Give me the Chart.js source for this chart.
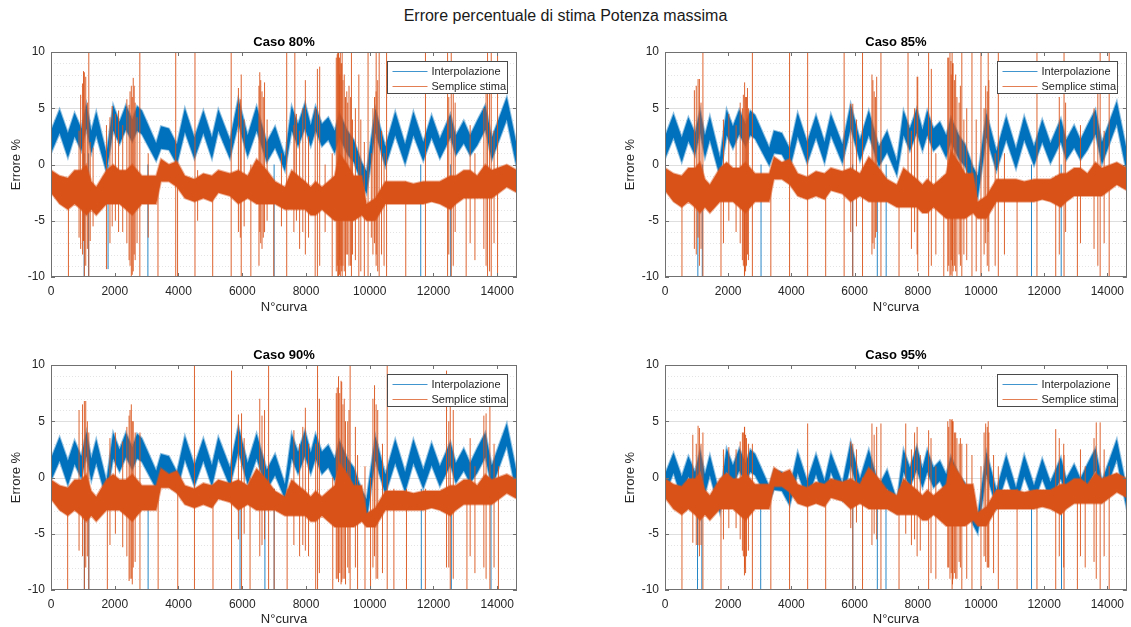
<!DOCTYPE html>
<html>
<head>
<meta charset="utf-8">
<script src="https://cdn.jsdelivr.net/npm/chart.js@4.4.1/dist/chart.umd.min.js"></script>
<style>
  body { margin: 0; background: #fff; width: 1131px; height: 627px; position: relative; overflow: hidden; font-family: "Liberation Sans", Arial, sans-serif; }
  #title { position: absolute; top: 6px; left: 0; width: 1131px; text-align: center; font-size: 16px; line-height: 20px; color: #1a1a1a; }
  canvas { position: absolute; }
</style>
</head>
<body>
<div id="title">Errore percentuale di stima Potenza massima</div>
<canvas id="c80" width="530" height="318" style="left:0;top:0"></canvas>
<canvas id="c85" width="517" height="318" style="left:614px;top:0"></canvas>
<canvas id="c90" width="530" height="314" style="left:0;top:313px"></canvas>
<canvas id="c95" width="517" height="314" style="left:614px;top:313px"></canvas>
<script>
const seriesNames = ['Interpolazione', 'Semplice stima'];
const xMax = 14620;
const xTicks = [0, 2000, 4000, 6000, 8000, 10000, 12000, 14000];
const yTicks = [-10, -5, 0, 5, 10];

const nodeX = [
  0, 270, 530, 740, 950, 1110, 1265, 1420, 1740, 1950,
  2150, 2350, 2550, 2700, 2850, 3300, 3450, 3700, 3950, 4200,
  4500, 4780, 5050, 5250, 5615, 5877, 6170, 6450, 6770, 7030,
  7340, 7550, 7750, 7970, 8150, 8300, 8500, 8700, 8900, 9050,
  9300, 9500, 9750, 9900, 10175, 10490, 10800, 11110, 11370, 11680,
  11940, 12200, 12530, 12700, 12950, 13150, 13370, 13625, 13830, 14300,
  14620
];

// ---- Caso 80% ----
const interpHi80 = [
  3.0, 4.9, 2.8, 4.6, 3.2, 5.4, 3.0, 4.7, 1.0, 5.3,
  3.8, 5.3, 4.0, 5.2, 4.8, 1.9, 3.4, 3.2, 1.8, 5.0,
  2.4, 4.8, 2.4, 4.9, 2.2, 5.9, 2.6, 5.2, 2.0, 3.4,
  0.7, 5.2, 3.6, 5.5, 3.5, 5.2, 3.6, 4.2, 3.0, 4.6,
  3.0, 2.2, 0.2, -0.6, 5.0, 1.6, 4.7, 1.8, 4.7, 2.0,
  4.4, 2.3, 4.5, 2.6, 3.9, 2.6, 3.9, 5.3, 2.4, 6.0,
  1.6
];
const interpLo80 = [
  1.0, 2.8, 0.6, 2.5, 1.2, 3.2, 1.0, 2.6, -0.7, 3.0,
  1.8, 3.1, 2.0, 3.0, 2.7, 0.3, 1.4, 1.3, 0.0, 2.9,
  0.5, 2.8, 0.5, 3.0, 0.5, 3.6, 0.7, 3.0, 0.2, 1.5,
  -0.6, 3.0, 1.6, 3.2, 1.6, 3.0, 1.6, 2.2, 1.0, 2.4,
  0.9, 0.2, -1.7, -2.6, 2.8, -0.2, 2.6, 0.0, 2.6, 0.3,
  2.4, 0.5, 2.4, 0.8, 1.9, 0.8, 1.7, 3.1, 0.4, 4.0,
  -0.4
];
const stimaHi80 = [
  -0.5, -1.0, -1.2, -0.5, -0.5, 0.0, -1.5, -2.0, -0.5, 0.0,
  -0.5, -0.5, 0.0, -0.5, -1.0, -1.0, 0.5, 0.0, 0.3, -1.0,
  -1.3, -0.8, -1.0, -0.5, -0.8, -0.5, -1.0, 0.5, -0.5, -1.5,
  -2.0, -0.5, -1.0, -1.5, -2.0, -1.5, -2.0, -1.5, -1.0, 1.0,
  0.0, -1.0, -1.0, -3.5, -3.0, -1.5, -1.5, -1.5, -1.7, -1.5,
  -1.5, -1.5, -1.0, -1.0, -0.5, -0.5, -1.0, 0.0, -0.5, 0.0,
  -0.5
];
const stimaLo80 = [
  -2.5, -3.5, -4.0, -3.5, -4.0, -4.5, -4.0, -4.5, -3.5, -3.5,
  -3.5, -4.0, -4.5, -4.0, -3.5, -3.5, -1.5, -1.5, -2.0, -3.0,
  -3.3, -3.0, -3.3, -2.5, -2.8, -3.5, -3.0, -3.5, -3.5, -3.5,
  -4.0, -4.0, -4.0, -4.0, -4.5, -4.5, -4.0, -4.5, -5.0, -5.0,
  -5.0, -5.0, -4.5, -5.0, -5.0, -3.5, -3.5, -3.5, -3.5, -3.5,
  -3.3, -3.5, -4.0, -3.5, -3.0, -3.0, -3.0, -3.0, -3.0, -2.0,
  -2.5
];
// [N° curva, min, max]
const interpSpikes80 = [
  [1040, -10, 1], [1180, -10, 1], [1790, -9.3, 0], [3040, -10, 0],
  [7000, -10, 0], [11600, -10, 0], [12540, -10, 0]
];
const stimaSpikes80 = [
  [0, -10, 10], [547, -10, -1.5], [1047, -10, 8.2], [1186, -10, 10], [2787, -10, 10],
  [3356, -10, -1], [3913, -10, 10], [3971, -10, -0.5], [4517, -10, 10], [5073, -10, -1.5],
  [5653, -10, 10], [5968, -10, 8], [6270, -10, 0], [6525, -9, 7], [6989, -10, -1.5],
  [7395, -10, 10], [7650, -3, 10], [8288, -10, 5], [8358, -10, 8.5], [8822, -10, 1],
  [8997, -10, 10], [9078, -10, 10], [9135, -10, 10], [9426, -10, 10], [9658, -10, 8],
  [9831, -10, 2], [9947, -10, 10], [10202, -8, 10], [10296, -10, 10], [10528, -10, 10],
  [11130, -10, -1.5], [11748, -10, 10], [12442, -10, 10], [12557, -10, 10], [13025, -10, -1],
  [13696, -10, 10], [13812, -10, 10], [14010, -10, 10], [14620, -8.7, -0.5],
  [880, -6.5, 3], [930, -7.5, 6.2], [990, -8, 7.2], [1020, -6.8, 8.3], [1090, -9, 7.8],
  [1140, -7.5, 5.5], [1230, -6.8, 2], [1320, -5.5, 1.5], [1740, -9.3, 3.5], [1850, -7, 4.2],
  [1920, -5.5, 5.2], [2020, -5, 4.5], [2120, -6, 4.8], [2250, -6, 3.5], [2380, -7, 5.8],
  [2450, -8.5, 5.3], [2520, -10, 7], [2580, -9.5, 7.7], [2640, -8.5, 5.5], [2700, -7, 4.2],
  [3050, -6.5, 1], [4600, -5, -0.5], [5880, -6, 6.8], [5940, -6.5, 5.8], [6060, -5.5, 4],
  [6550, -6, 8.2], [6620, -7.5, 6.5], [6700, -6, 7.3], [6780, -5, 4], [7230, -5.5, 1],
  [7620, -6, 3.5], [7700, -5, 4.5], [7800, -7.5, 3], [7900, -6, 5], [7980, -8, 7.5],
  [8080, -6.5, 2.5], [8430, -9, 8.7], [8600, -6, 0], [8950, -9.5, 9.5], [9020, -10, 10],
  [9100, -9, 9], [9200, -9.5, 8], [9280, -8, 6.5], [9350, -9, 7], [9550, -8.5, 5],
  [9720, -9.5, 4], [10050, -6.5, 1], [10150, -7, 6], [10250, -9.5, 7.5], [10370, -8, 3],
  [10450, -9, 1], [12480, -8, 6], [12620, -9, 7.5], [12680, -6, 5.5], [13150, -7, 3.5],
  [13300, -8.5, 1], [13580, -7.5, 5], [13650, -9, 6.5], [13760, -9.5, 8], [13900, -7, 3],
  [8980, -9, 9.8], [9050, -9.8, 9.5], [9060, -8.5, 8], [9120, -9.5, 9], [9160, -9, 7.5],
  [9240, -10, 6], [9310, -8, 5.5], [9400, -9, 6], [9460, -8, 4], [2480, -9, 6.5],
  [2550, -9.8, 6], [2610, -8, 7], [10100, -8, 5], [10200, -9, 6.5], [6580, -7, 7.5],
  [6660, -6.5, 6]
];

// ---- Caso 85% ----
const interpHi85 = [
  2.5, 4.5, 2.4, 4.2, 2.8, 4.9, 2.6, 4.3, 0.6, 4.9,
  3.4, 4.9, 3.6, 4.8, 4.4, 1.5, 3.0, 2.8, 1.4, 4.6,
  2.0, 4.4, 2.0, 4.5, 1.8, 5.4, 2.2, 4.8, 1.6, 3.0,
  0.3, 4.8, 3.2, 5.0, 3.1, 4.8, 3.2, 3.8, 2.6, 4.2,
  2.6, 1.8, -0.2, -1.0, 4.6, 1.2, 4.3, 1.4, 4.3, 1.6,
  4.0, 1.9, 4.1, 2.2, 3.5, 2.2, 3.5, 4.9, 2.0, 5.6,
  1.2
];
const interpLo85 = [
  0.5, 2.4, 0.2, 2.1, 0.8, 2.8, 0.6, 2.2, -1.1, 2.6,
  1.4, 2.7, 1.6, 2.6, 2.3, -0.1, 1.0, 0.9, -0.4, 2.5,
  0.1, 2.4, 0.1, 2.6, 0.1, 3.2, 0.3, 2.6, -0.2, 1.1,
  -1.0, 2.6, 1.2, 2.8, 1.2, 2.6, 1.2, 1.8, 0.6, 2.0,
  0.5, -0.2, -2.1, -3.0, 2.4, -0.6, 2.2, -0.4, 2.2, -0.1,
  2.0, 0.1, 2.0, 0.4, 1.5, 0.4, 1.3, 2.7, 0.0, 3.6,
  -0.8
];
const stimaHi85 = [
  -0.3, -0.8, -1.0, -0.3, -0.3, 0.2, -1.3, -1.8, -0.3, 0.2,
  -0.3, -0.3, 0.2, -0.3, -0.8, -0.8, 0.7, 0.2, 0.5, -0.8,
  -1.1, -0.6, -0.8, -0.3, -0.6, -0.3, -0.8, 0.7, -0.3, -1.3,
  -1.8, -0.3, -0.8, -1.3, -1.8, -1.3, -1.8, -1.3, -0.8, 1.2,
  0.2, -0.8, -0.8, -3.3, -2.8, -1.3, -1.3, -1.3, -1.5, -1.3,
  -1.3, -1.3, -0.8, -0.8, -0.3, -0.3, -0.8, 0.2, -0.3, 0.2,
  -0.3
];
const stimaLo85 = [
  -2.3, -3.3, -3.8, -3.3, -3.8, -4.3, -3.8, -4.3, -3.3, -3.3,
  -3.3, -3.8, -4.3, -3.8, -3.3, -3.3, -1.3, -1.3, -1.8, -2.8,
  -3.1, -2.8, -3.1, -2.3, -2.6, -3.3, -2.8, -3.3, -3.3, -3.3,
  -3.8, -3.8, -3.8, -3.8, -4.3, -4.3, -3.8, -4.3, -4.8, -4.8,
  -4.8, -4.8, -4.3, -4.8, -4.8, -3.3, -3.3, -3.3, -3.3, -3.3,
  -3.1, -3.3, -3.8, -3.3, -2.8, -2.8, -2.8, -2.8, -2.8, -1.8,
  -2.3
];
const interpSpikes85 = [
  [1040, -10, 0], [1180, -10, 0], [3040, -10, 0], [5940, -10, 0],
  [6720, -10, 0], [7000, -10, 0], [11600, -10, 0], [12540, -10, 0]
];
const stimaSpikes85 = [
  [0, -9, 10], [537, -10, -1.5], [1047, -6.5, 7.6], [1200, -10, 10], [1772, -10, -1],
  [2515, -10, -2], [2766, -10, 10], [3350, -10, -1], [3943, -10, 10], [4515, -10, 10],
  [5086, -10, -1.5], [5670, -10, 10], [5944, -10, 5.4], [6252, -10, 10], [6835, -10, 10],
  [7407, -10, -1.5], [7692, -3, 10], [8000, -9.5, 7.8], [8344, -10, 10], [8573, -8, 1],
  [8824, -10, -1], [9087, -10, 10], [9395, -10, 10], [9716, -10, 10], [10001, -10, 10],
  [10230, -6, 10], [10550, -10, 10], [10744, -8, 1], [11144, -10, -1.5], [11773, -10, 10],
  [12367, -10, -1], [12630, -10, 10], [13053, -10, -1], [13773, -10, 10], [14059, -10, 10],
  [930, -7.5, 6.6], [990, -8, 7], [1090, -9, 7.6], [1140, -7.5, 5.5], [1850, -7, 4],
  [2020, -5, 4.5], [2250, -6, 3.5], [2380, -7, 5.5], [2450, -8.5, 5], [2520, -9.8, 7.3],
  [2580, -9, 6], [2640, -8.5, 5], [5880, -6, 5.4], [6060, -5.5, 4], [6550, -8, 8],
  [6620, -7.5, 6.5], [6700, -6, 7.8], [7800, -7.5, 3], [7900, -6, 5], [7980, -8, 7.8],
  [8430, -9, 8.5], [8950, -9.5, 9.5], [9020, -10, 10], [9100, -9, 9], [9200, -9.5, 8],
  [9350, -9, 7], [9550, -8.5, 5], [9850, -9.5, 4], [10150, -7, 7], [10250, -9.5, 7.5],
  [10450, -9, 1], [12480, -8, 6], [12680, -6, 5.5], [13150, -7, 3.5], [13580, -7.5, 5],
  [13700, -9, 6.5], [13900, -7, 3],
  [8980, -9, 9.5], [9050, -9.8, 9.2], [9060, -8.5, 8], [9120, -9.5, 9], [9160, -9, 7.5],
  [9240, -10, 6], [9310, -8, 5.5], [9460, -8, 4], [2480, -9, 6.2], [2550, -9.5, 6],
  [2610, -8, 6.8], [10100, -8, 5], [10200, -9, 6.5], [6580, -7, 7.5], [6660, -6.5, 6]
];

// ---- Caso 90% ----
const interpHi90 = [
  1.7, 3.6, 1.5, 3.3, 1.9, 4.1, 1.7, 3.4, -0.3, 4.0,
  2.5, 4.0, 2.7, 3.9, 3.5, 0.6, 2.1, 1.9, 0.5, 3.7,
  1.1, 3.5, 1.1, 3.6, 0.9, 4.6, 1.3, 3.9, 0.7, 2.1,
  -0.6, 3.9, 2.3, 4.2, 2.2, 3.9, 2.3, 2.9, 1.7, 3.3,
  1.7, 0.9, -1.1, -1.9, 3.7, 0.3, 3.4, 0.5, 3.4, 0.7,
  3.1, 1.0, 3.2, 1.3, 2.6, 1.3, 2.6, 4.0, 1.1, 4.8,
  0.3
];
const interpLo90 = [
  -0.3, 1.5, -0.7, 1.2, -0.1, 1.9, -0.3, 1.3, -2.0, 1.7,
  0.5, 1.8, 0.7, 1.7, 1.4, -1.0, 0.1, 0.0, -1.3, 1.6,
  -0.8, 1.5, -0.8, 1.7, -0.8, 2.3, -0.6, 1.7, -1.1, 0.2,
  -1.9, 1.7, 0.3, 1.9, 0.3, 1.7, 0.3, 0.9, -0.3, 1.1,
  -0.4, -1.1, -3.0, -3.9, 1.5, -1.5, 1.3, -1.3, 1.3, -1.0,
  1.1, -0.8, 1.1, -0.5, 0.6, -0.5, 0.4, 1.8, -0.9, 2.8,
  -1.7
];
const stimaHi90 = [
  -0.2, -0.7, -0.9, -0.2, -0.2, 0.3, -1.2, -1.7, -0.2, 0.3,
  -0.2, -0.2, 0.3, -0.2, -0.7, -0.7, 0.8, 0.3, 0.6, -0.7,
  -1.0, -0.5, -0.7, -0.2, -0.5, -0.2, -0.7, 0.8, -0.2, -1.2,
  -1.7, -0.2, -0.7, -1.2, -1.7, -1.2, -1.7, -1.2, -0.7, 1.3,
  0.3, -0.7, -0.7, -3.2, -2.7, -1.2, -1.2, -1.2, -1.4, -1.2,
  -1.2, -1.2, -0.7, -0.7, -0.2, -0.2, -0.7, 0.3, -0.2, 0.3,
  -0.2
];
const stimaLo90 = [
  -1.9, -2.9, -3.4, -2.9, -3.4, -3.9, -3.4, -3.9, -2.9, -2.9,
  -2.9, -3.4, -3.9, -3.4, -2.9, -2.9, -0.9, -0.9, -1.4, -2.4,
  -2.7, -2.4, -2.7, -1.9, -2.2, -2.9, -2.4, -2.9, -2.9, -2.9,
  -3.4, -3.4, -3.4, -3.4, -3.9, -3.9, -3.4, -3.9, -4.4, -4.4,
  -4.4, -4.4, -3.9, -4.4, -4.4, -2.9, -2.9, -2.9, -2.9, -2.9,
  -2.7, -2.9, -3.4, -2.9, -2.4, -2.4, -2.4, -2.4, -2.4, -1.4,
  -1.9
];
const interpSpikes90 = [
  [1047, -10, -1], [1186, -10, -1], [3047, -10, -1], [5931, -10, -1], [6711, -10, -1],
  [7001, -10, -1], [11618, -10, -1], [12560, -10, -1], [13805, -10, -1]
];
const stimaSpikes90 = [
  [0, -10, 8.7], [523, -10, -1], [1047, -10, 6.8], [1186, -10, 4], [1768, -10, -1],
  [2791, -10, 4], [3361, -10, -1], [3977, -10, -0.5], [4501, -10, 10], [5082, -10, -1],
  [5664, -10, 9.5], [5978, -10, 5.7], [6245, -10, 0], [6827, -10, 10], [7001, -10, -1],
  [7408, -10, -1], [8304, -10, 3], [8362, -10, 10], [8839, -10, 0], [9385, -10, 10],
  [9618, -10, 2], [9851, -10, 1], [10025, -10, 0], [10548, -10, 10], [10758, -10, -1],
  [11153, -10, -1], [11746, -10, -1], [12409, -8, 9.5], [12526, -10, 6.5], [13049, -10, -1],
  [13770, -10, 6.5], [14037, -10, 1], [14620, -7, -0.5],
  [880, -6.5, 6], [990, -7, 6.5], [1090, -8, 6.8], [1140, -7, 5], [1850, -6, 3.5],
  [2020, -5, 4], [2250, -6.2, 3.2], [2380, -7, 4.5], [2450, -9.2, 5.5], [2520, -9, 6.5],
  [2580, -8, 5], [2640, -7.5, 4], [5880, -5.5, 5.6], [6060, -5, 3.5], [6550, -7, 7],
  [6620, -6, 5.5], [6700, -5.5, 6], [7620, -6, 4.2], [7800, -7, 3], [7900, -6, 4.5],
  [7980, -6.5, 6.2], [8080, -7, 3], [8420, -8.5, 7], [8950, -9, 7.5], [9020, -9.3, 9],
  [9100, -9.5, 8.6], [9200, -9, 7], [9350, -8.5, 6], [9550, -8, 4.5], [10150, -7, 8.2],
  [10250, -9, 6], [10400, -8.5, 3], [12480, -8, 5], [12620, -9, 6], [13150, -7, 3.5],
  [13300, -8.5, 1], [13580, -8, 5.5], [13650, -9, 5.7], [13900, -8, 3],
  [8980, -9, 8], [9060, -8.5, 7.5], [9120, -9.3, 8.5], [9160, -9, 6.5], [9240, -9.5, 5],
  [9310, -8, 5], [2480, -9, 6], [2550, -9.5, 5], [10100, -8, 7], [10200, -9, 6.5]
];

// ---- Caso 95% ----
const interpHi95 = [
  0.3, 2.2, 0.1, 1.9, 0.5, 2.5, 0.3, 2.0, -1.6, 2.6,
  1.1, 2.6, 1.3, 2.5, 2.1, -0.8, 0.7, 0.5, -0.9, 2.3,
  -0.3, 2.1, -0.3, 2.2, -0.5, 3.2, -0.1, 2.5, -0.7, 0.7,
  -2.0, 2.5, 0.9, 2.8, 0.8, 2.5, 0.9, 1.5, 0.3, 1.9,
  0.3, -0.5, -2.5, -3.3, 2.3, -1.1, 2.0, -0.9, 2.0, -0.7,
  1.7, -0.4, 1.8, -0.1, 1.2, -0.1, 1.2, 2.6, -0.3, 3.4,
  -1.1
];
const interpLo95 = [
  -1.5, 0.4, -1.9, 0.1, -1.3, 0.6, -1.5, 0.2, -3.2, 0.5,
  -0.7, 0.6, -0.5, 0.5, 0.2, -2.2, -1.1, -1.2, -2.5, 0.4,
  -2.0, 0.3, -2.0, 0.5, -2.0, 1.1, -1.8, 0.5, -2.3, -1.0,
  -3.1, 0.5, -0.9, 0.7, -0.9, 0.5, -0.9, -0.3, -1.5, -0.1,
  -1.6, -2.3, -4.2, -5.0, 0.3, -2.7, 0.1, -2.5, 0.1, -2.2,
  -0.1, -2.0, -0.1, -1.7, -0.6, -1.7, -0.8, 0.6, -2.1, 1.6,
  -2.9
];
const stimaHi95 = [
  -0.1, -0.6, -0.8, -0.1, -0.1, 0.4, -1.1, -1.6, -0.1, 0.4,
  -0.1, -0.1, 0.4, -0.1, -0.6, -0.6, 0.9, 0.4, 0.7, -0.6,
  -0.9, -0.4, -0.6, -0.1, -0.4, -0.1, -0.6, 0.9, -0.1, -1.1,
  -1.6, -0.1, -0.6, -1.1, -1.6, -1.1, -1.6, -1.1, -0.6, 1.4,
  0.4, -0.6, -0.6, -3.1, -2.6, -1.1, -1.1, -1.1, -1.3, -1.1,
  -1.1, -1.1, -0.6, -0.6, -0.1, -0.1, -0.6, 0.4, -0.1, 0.4,
  -0.1
];
const stimaLo95 = [
  -1.8, -2.8, -3.3, -2.8, -3.3, -3.8, -3.3, -3.8, -2.8, -2.8,
  -2.8, -3.3, -3.8, -3.3, -2.8, -2.8, -0.8, -0.8, -1.3, -2.3,
  -2.6, -2.3, -2.6, -1.8, -2.1, -2.8, -2.3, -2.8, -2.8, -2.8,
  -3.3, -3.3, -3.3, -3.3, -3.8, -3.8, -3.3, -3.8, -4.3, -4.3,
  -4.3, -4.3, -3.8, -4.3, -4.3, -2.8, -2.8, -2.8, -2.8, -2.8,
  -2.6, -2.8, -3.3, -2.8, -2.3, -2.3, -2.3, -2.3, -2.3, -1.3,
  -1.8
];
const interpSpikes95 = [
  [1029, -10, -2], [1166, -10, -2], [3029, -10, -2], [5944, -10, -2],
  [6721, -10, -2], [6995, -10, -2], [11601, -10, -2], [12550, -10, -2]
];
const stimaSpikes95 = [
  [0, -10, 4.5], [537, -10, -1], [1047, -6, 4.6], [1200, -10, 4], [1772, -10, -1],
  [2515, -8.7, 4.5], [2766, -10, 3], [3350, -10, -1], [3943, -10, 0], [4515, -10, 4.8],
  [5086, -10, -1], [5944, -10, 3], [6252, -10, 0], [6835, -10, 4.8], [7407, -10, -1],
  [8344, -10, 4.2], [8573, -9, 1], [9087, -10, 5.2], [9395, -10, 3], [9716, -10, 2],
  [10001, -10, 1], [10230, -8, 5], [10550, -10, 1], [11144, -10, -1], [11773, -10, -1],
  [12367, -10, 4.3], [12630, -10, 2], [13053, -10, -1], [13773, -10, 4.9], [14059, -10, 1],
  [14620, -8.5, -0.5],
  [880, -5.8, 3.8], [990, -6, 3], [1090, -7, 4.4], [1140, -6, 3], [1850, -5.5, 2.5],
  [2020, -4.5, 2.7], [2250, -4.5, 2.5], [2380, -5.5, 3.2], [2450, -6.5, 4], [2520, -8, 4.5],
  [2580, -7, 3.5], [2640, -6.5, 3], [5880, -4.5, 3.2], [6060, -4, 2.5], [6550, -6, 4.8],
  [6620, -5, 3.8], [6700, -5.5, 4.5], [7620, -5, 4.8], [7800, -6, 2.5], [7900, -5.5, 4],
  [7980, -7, 4.5], [8080, -6.5, 2], [8420, -8.5, 3.5], [8950, -8, 5], [9020, -9, 5.2],
  [9100, -9.5, 5], [9200, -9, 4], [9350, -8, 3.5], [9550, -9, 3], [10150, -7.5, 4.8],
  [10250, -8, 4], [10400, -8.5, 2], [12480, -7, 3.5], [12620, -8, 3], [13150, -7, 2.5],
  [13300, -8, 1], [13580, -7.5, 3.5], [13650, -9, 4.9], [13900, -7, 2.5],
  [8980, -8, 4.5], [9060, -8.5, 5.1], [9120, -9, 5], [9160, -8.5, 4], [9240, -9, 3.5],
  [9310, -7.5, 3], [2480, -7, 4], [2550, -8.5, 3.8], [10100, -7, 4], [10200, -8, 4.5]
];

const blue = '#0072BD';
const orange = '#D95319';
const textColor = '#262626';
Chart.defaults.font.family = '"Liberation Sans", Arial, sans-serif';
Chart.defaults.font.size = 12;
Chart.defaults.color = textColor;

function band(vals) {
  return nodeX.map((x, i) => ({ x: x, y: vals[i] }));
}

function spikes(list) {
  const pts = [];
  list.slice().sort((a, b) => a[0] - b[0]).forEach(s => {
    pts.push({ x: s[0], y: s[1] }, { x: s[0], y: s[2] }, { x: s[0], y: null });
  });
  return pts;
}

// grid lines, box, inner ticks, subplot title and legend (MATLAB look)
const frame = {
  id: 'frame',
  beforeDatasetsDraw(chart) {
    const { ctx, chartArea: a, scales } = chart;
    ctx.save();
    ctx.lineWidth = 1;
    for (let v = -9; v <= 9; v++) {
      const py = Math.round(scales.y.getPixelForValue(v)) + 0.5;
      ctx.strokeStyle = v % 5 === 0 ? '#dedede' : '#e4e4e4';
      ctx.setLineDash(v % 5 === 0 ? [] : [1, 2]);
      ctx.beginPath();
      ctx.moveTo(a.left, py);
      ctx.lineTo(a.right, py);
      ctx.stroke();
    }
    ctx.restore();
  },
  afterDraw(chart, args, opts) {
    const { ctx, chartArea: a, scales } = chart;
    ctx.save();
    ctx.strokeStyle = '#707070';
    ctx.lineWidth = 1;
    ctx.beginPath();
    xTicks.forEach(v => {
      const px = Math.round(scales.x.getPixelForValue(v)) + 0.5;
      ctx.moveTo(px, a.bottom); ctx.lineTo(px, a.bottom - 4);
      ctx.moveTo(px, a.top); ctx.lineTo(px, a.top + 4);
    });
    yTicks.forEach(v => {
      const py = Math.round(scales.y.getPixelForValue(v)) + 0.5;
      ctx.moveTo(a.left, py); ctx.lineTo(a.left + 4, py);
      ctx.moveTo(a.right, py); ctx.lineTo(a.right - 4, py);
    });
    ctx.stroke();
    ctx.strokeRect(Math.round(a.left) + 0.5, Math.round(a.top) + 0.5, Math.round(a.width) - 1, Math.round(a.height) - 1);

    ctx.fillStyle = '#000';
    ctx.font = 'bold 13px "Liberation Sans", Arial, sans-serif';
    ctx.textAlign = 'center';
    ctx.textBaseline = 'middle';
    ctx.fillText(opts.text, (a.left + a.right) / 2, a.top - 10);

    // legend
    const bw = 120, bh = 32;
    const bx = Math.round(a.right - 10 - bw) + 0.5;
    const by = Math.round(a.top + 9) + 0.5;
    ctx.fillStyle = '#fff';
    ctx.fillRect(bx, by, bw, bh);
    ctx.strokeStyle = '#4a4a4a';
    ctx.strokeRect(bx, by, bw, bh);
    ctx.font = '11px "Liberation Sans", Arial, sans-serif';
    ctx.textAlign = 'left';
    [blue, orange].forEach((c, i) => {
      const ry = by + 10 + i * 15;
      ctx.strokeStyle = c;
      ctx.globalAlpha = 0.75;
      ctx.beginPath();
      ctx.moveTo(bx + 5, ry); ctx.lineTo(bx + 40, ry);
      ctx.stroke();
      ctx.globalAlpha = 1;
      ctx.fillStyle = textColor;
      ctx.fillText(seriesNames[i], bx + 44, ry);
    });
    ctx.restore();
  }
};

function makePanel(id, title, padRight, height, d) {
  const canvas = document.getElementById(id);
  new Chart(canvas, {
    type: 'line',
    data: {
      datasets: [
        { label: seriesNames[0], data: band(d.iHi), fill: '+1', backgroundColor: blue, borderColor: 'rgba(0,114,189,0.45)', borderWidth: 2, order: 2 },
        { data: band(d.iLo), fill: false, borderColor: 'rgba(0,114,189,0.45)', borderWidth: 2, order: 2 },
        { data: spikes(d.iSp), fill: false, borderColor: 'rgba(0,114,189,0.85)', borderWidth: 1, order: 2 },
        { label: seriesNames[1], data: band(d.sHi), fill: '+1', backgroundColor: orange, borderColor: 'rgba(217,83,25,0.45)', borderWidth: 2, order: 1 },
        { data: band(d.sLo), fill: false, borderColor: 'rgba(217,83,25,0.45)', borderWidth: 2, order: 1 },
        { data: spikes(d.sSp), fill: false, borderColor: 'rgba(217,83,25,0.9)', borderWidth: 1, order: 1 }
      ]
    },
    options: {
      responsive: false,
      animation: false,
      events: [],
      spanGaps: false,
      layout: { padding: { top: 52, right: padRight, left: 0, bottom: 0 } },
      elements: { point: { radius: 0 }, line: { tension: 0 } },
      plugins: {
        legend: { display: false },
        tooltip: { enabled: false },
        frame: { text: title }
      },
      scales: {
        x: {
          type: 'linear', min: 0, max: xMax,
          afterFit: s => { s.height = height - 277; },
          afterBuildTicks: s => { s.ticks = xTicks.map(v => ({ value: v })); },
          ticks: { autoSkip: false, maxRotation: 0, padding: 7, color: textColor, callback: v => String(v) },
          grid: { drawOnChartArea: false, drawTicks: false },
          border: { display: false },
          title: { display: true, text: 'N°curva', color: textColor, font: { size: 13 }, padding: { top: 0, bottom: height > 315 ? 3 : 0 } }
        },
        y: {
          min: -10, max: 10,
          afterFit: s => { s.width = 51; },
          afterBuildTicks: s => { s.ticks = yTicks.map(v => ({ value: v })); },
          ticks: { autoSkip: false, padding: 6, color: textColor, callback: v => String(v) },
          grid: { drawOnChartArea: false, drawTicks: false },
          border: { display: false },
          title: { display: true, text: 'Errore %', color: textColor, font: { size: 13 }, padding: { top: 9, bottom: 0 } }
        }
      }
    },
    plugins: [frame]
  });
}

makePanel('c80', 'Caso 80%', 13, 318, { iHi: interpHi80, iLo: interpLo80, iSp: interpSpikes80, sHi: stimaHi80, sLo: stimaLo80, sSp: stimaSpikes80 });
makePanel('c85', 'Caso 85%', 0, 318, { iHi: interpHi85, iLo: interpLo85, iSp: interpSpikes85, sHi: stimaHi85, sLo: stimaLo85, sSp: stimaSpikes85 });
makePanel('c90', 'Caso 90%', 13, 314, { iHi: interpHi90, iLo: interpLo90, iSp: interpSpikes90, sHi: stimaHi90, sLo: stimaLo90, sSp: stimaSpikes90 });
makePanel('c95', 'Caso 95%', 0, 314, { iHi: interpHi95, iLo: interpLo95, iSp: interpSpikes95, sHi: stimaHi95, sLo: stimaLo95, sSp: stimaSpikes95 });
</script>
</body>
</html>
